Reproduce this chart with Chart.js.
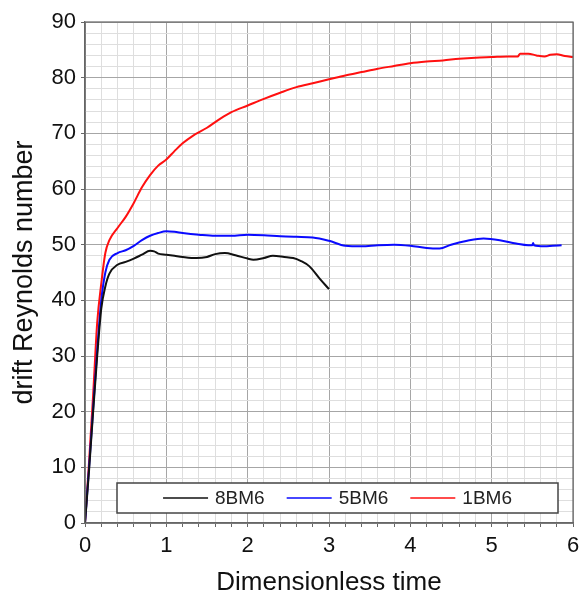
<!DOCTYPE html>
<html>
<head>
<meta charset="utf-8">
<script src="https://cdn.jsdelivr.net/npm/chart.js@4"></script>
<style>
  html, body { margin: 0; padding: 0; background: #fff; }
  #wrap { width: 583px; height: 599px; }
</style>
</head>
<body>
<div id="wrap"><canvas id="grafik" width="583" height="599"></canvas></div>
<script>
// series names (legend order)
const seriesNames = ["8BM6", "5BM6", "1BM6"];

// 8BM6 (black)
const tBlack = [0, 0.05, 0.1, 0.15, 0.2, 0.25, 0.3, 0.4, 0.5, 0.6, 0.7, 0.8, 0.85, 0.9, 1.0, 1.1, 1.2, 1.37, 1.5, 1.6, 1.72, 1.85, 2.0, 2.07, 2.2, 2.31, 2.45, 2.56, 2.65, 2.76, 2.88, 3.0];
const reBlack = [0, 9.5, 20, 30, 38.5, 42.5, 44.8, 46.4, 46.9, 47.5, 48.2, 48.9, 48.8, 48.4, 48.2, 48.0, 47.8, 47.6, 47.8, 48.3, 48.5, 48.1, 47.5, 47.3, 47.6, 48.0, 47.8, 47.6, 47.1, 46.1, 44.0, 42.0];

// 5BM6 (blue)
const tBlue = [0, 0.05, 0.1, 0.15, 0.2, 0.25, 0.3, 0.4, 0.5, 0.6, 0.7, 0.8, 0.9, 1.0, 1.1, 1.2, 1.4, 1.6, 1.8, 2.0, 2.2, 2.4, 2.6, 2.8, 3.0, 3.2, 3.4, 3.6, 3.8, 4.0, 4.2, 4.36, 4.5, 4.7, 4.9, 5.1, 5.3, 5.45, 5.5, 5.51, 5.52, 5.65, 5.75, 5.86];
const reBlue = [0, 10, 20.5, 31, 40, 45, 47.3, 48.5, 49, 49.8, 50.8, 51.6, 52.1, 52.4, 52.3, 52.1, 51.8, 51.6, 51.6, 51.8, 51.7, 51.5, 51.4, 51.3, 50.7, 49.8, 49.7, 49.9, 50.0, 49.8, 49.4, 49.3, 50.0, 50.7, 51.1, 50.8, 50.2, 49.9, 49.9, 50.3, 49.9, 49.7, 49.8, 49.9];

// 1BM6 (red)
const tRed = [0, 0.05, 0.1, 0.15, 0.2, 0.25, 0.3, 0.4, 0.5, 0.6, 0.7, 0.8, 0.9, 1.0, 1.1, 1.2, 1.33, 1.5, 1.66, 1.8, 2.0, 2.2, 2.4, 2.6, 2.8, 3.0, 3.2, 3.4, 3.6, 3.8, 4.0, 4.2, 4.4, 4.6, 4.8, 5.0, 5.2, 5.32, 5.35, 5.45, 5.55, 5.65, 5.72, 5.8, 5.9, 6.0];
const reRed = [0, 11, 23, 36, 43, 48.5, 50.8, 53, 55, 57.5, 60.3, 62.5, 64.2, 65.3, 66.8, 68.2, 69.6, 71, 72.6, 73.8, 75.0, 76.2, 77.3, 78.3, 79.0, 79.7, 80.4, 81.0, 81.6, 82.1, 82.6, 82.9, 83.1, 83.4, 83.6, 83.7, 83.8, 83.8, 84.3, 84.3, 84.0, 83.8, 84.1, 84.2, 83.9, 83.7];

// axes
const xMin = 0, xMax = 6, xStep = 0.2;
const yMin = 0, yMax = 90, yStep = 2;

const FONT = '"Liberation Sans", Arial, sans-serif';

const toPoints = (ts, vs) => ts.map((t, i) => ({ x: t, y: vs[i] }));

const isMajor = (v, every) => Math.abs(v / every - Math.round(v / every)) < 1e-6;

// kotak legenda di dalam area plot, bawah
const legendBox = {
    id: 'legendBox',
    afterDraw(chart) {
        const ctx = chart.ctx;
        const area = chart.chartArea;
        const left = area.left + 32, right = area.right - 15;
        const top = area.bottom - 40, bottom = area.bottom - 10;
        ctx.save();
        ctx.fillStyle = '#fff';
        ctx.fillRect(left, top, right - left, bottom - top);
        ctx.strokeStyle = '#444';
        ctx.lineWidth = 1.5;
        ctx.strokeRect(left, top, right - left, bottom - top);

        ctx.font = '19px ' + FONT;
        ctx.textBaseline = 'middle';
        const lineLen = 45, gap = 7, spacing = 22;
        const items = chart.data.datasets.map(ds => ({ label: ds.label, color: ds.borderColor, w: ctx.measureText(ds.label).width }));
        let total = 0;
        items.forEach((it, i) => { total += lineLen + gap + it.w + (i > 0 ? spacing : 0); });
        let x = (left + right) / 2 - total / 2;
        const cy = (top + bottom) / 2;
        items.forEach(it => {
            ctx.strokeStyle = it.color;
            ctx.lineWidth = 1.5;
            ctx.beginPath();
            ctx.moveTo(x, cy);
            ctx.lineTo(x + lineLen, cy);
            ctx.stroke();
            ctx.fillStyle = '#222';
            ctx.fillText(it.label, x + lineLen + gap, cy + 1);
            x += lineLen + gap + it.w + spacing;
        });
        ctx.restore();
    }
};

// bingkai area plot
const plotFrame = {
    id: 'plotFrame',
    afterDatasetsDraw(chart) {
        const { ctx, chartArea: a } = chart;
        ctx.save();
        ctx.strokeStyle = '#666';
        ctx.lineWidth = 1.2;
        ctx.strokeRect(a.left, a.top, a.right - a.left, a.bottom - a.top);
        ctx.restore();
    }
};

new Chart(document.getElementById('grafik'), {
    type: 'line',
    data: {
        datasets: [
            { label: seriesNames[0], data: toPoints(tBlack, reBlack), borderColor: '#111111', borderWidth: 2, pointRadius: 0, cubicInterpolationMode: 'monotone' },
            { label: seriesNames[1], data: toPoints(tBlue, reBlue), borderColor: '#0a0aff', borderWidth: 2, pointRadius: 0, cubicInterpolationMode: 'monotone' },
            { label: seriesNames[2], data: toPoints(tRed, reRed), borderColor: '#ff1010', borderWidth: 2, pointRadius: 0, cubicInterpolationMode: 'monotone' }
        ]
    },
    options: {
        responsive: false,
        animation: false,
        layout: { padding: { top: 22, right: 10, left: 0, bottom: 0 } },
        plugins: { legend: { display: false }, tooltip: { enabled: false } },
        scales: {
            x: {
                type: 'linear', min: xMin, max: xMax,
                afterFit(s) { s.height = 76; s.paddingLeft = 0; s.paddingRight = 0; },
                ticks: {
                    stepSize: xStep, autoSkip: false, maxRotation: 0, padding: 6,
                    color: '#111', font: { family: FONT, size: 22 },
                    callback: v => isMajor(v, 1) ? String(Math.round(v)) : ''
                },
                grid: {
                    drawTicks: true, tickLength: 4,
                    color: c => isMajor(c.tick.value, 1) ? '#a6a6a6' : '#dedede',
                    tickColor: '#666'
                },
                border: { color: '#666', width: 1.2 },
                title: {
                    display: true, text: 'Dimensionless time', color: '#111',
                    font: { family: FONT, size: 26 },
                    padding: { top: 0, bottom: 1 }
                }
            },
            y: {
                min: yMin, max: yMax,
                afterFit(s) { s.width = 85; s.paddingTop = 0; s.paddingBottom = 0; },
                ticks: {
                    stepSize: yStep, autoSkip: false, padding: 5,
                    color: '#111', font: { family: FONT, size: 22 },
                    callback: v => isMajor(v, 10) ? String(Math.round(v)) : ''
                },
                grid: {
                    drawTicks: true, tickLength: 4,
                    color: c => isMajor(c.tick.value, 10) ? '#a6a6a6' : '#dedede',
                    tickColor: c => isMajor(c.tick.value, 10) ? '#666' : 'rgba(0,0,0,0)'
                },
                border: { color: '#666', width: 1.2 },
                title: {
                    display: true, text: 'drift Reynolds number', color: '#111',
                    font: { family: FONT, size: 27 },
                    padding: { top: 8, bottom: 0 }
                }
            }
        }
    },
    plugins: [legendBox, plotFrame]
});
</script>
</body>
</html>
